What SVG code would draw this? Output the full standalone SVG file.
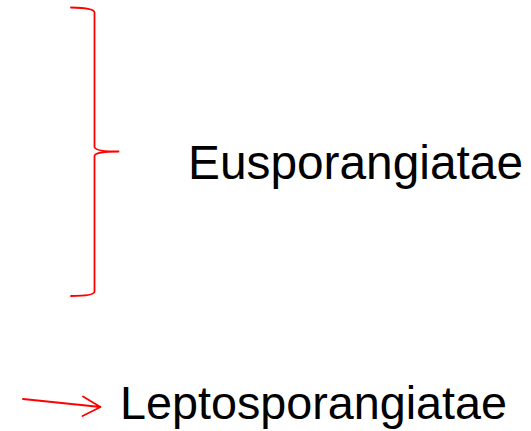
<svg xmlns="http://www.w3.org/2000/svg" width="531" height="431" viewBox="0 0 531 431">
<style>
.lbl{font-family:"Liberation Sans",Arial,sans-serif;fill:#000}
.red{fill:none;stroke:#ff0000;stroke-width:1.8;stroke-linecap:round;stroke-linejoin:round}
</style>
<rect width="531" height="431" fill="#fff"/>
<g id="connectors">
<path class="red" d="M71,7.5 Q94.5,8 94.5,12.5 L94.5,147 Q95,151.5 118.5,151.5 Q95,151.5 94.5,156 L94.5,291.5 Q94.5,296 71,296"/>
<path class="red" stroke-width="2.2" d="M23,399 L100.5,407 M83,396.5 L100.5,407 L82.5,416"/>
</g>
<g id="eusporangiatae"><text class="lbl" x="188" y="179" font-size="48" textLength="335" lengthAdjust="spacingAndGlyphs">Eusporangiatae</text></g>
<g id="leptosporangiatae"><text class="lbl" x="120" y="419" font-size="47" textLength="387" lengthAdjust="spacingAndGlyphs">Leptosporangiatae</text></g>
</svg>
